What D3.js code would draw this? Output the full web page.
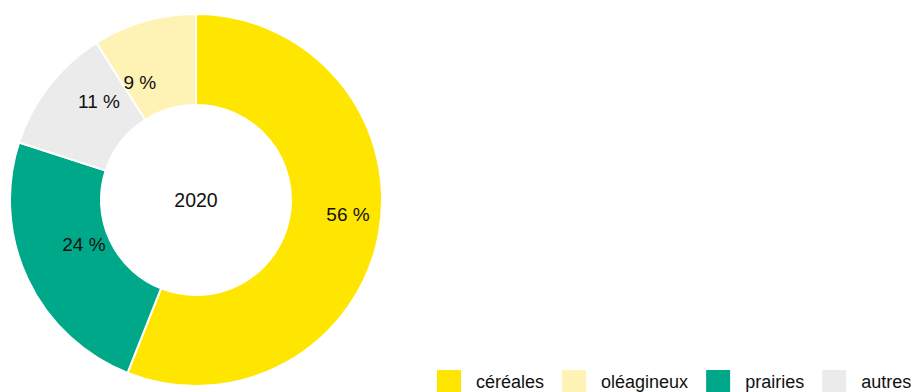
<!DOCTYPE html>
<html>
<head>
<meta charset="utf-8">
<script src="https://cdn.jsdelivr.net/npm/d3@7"></script>
<style>
  html, body { margin: 0; padding: 0; background: #fff; }
  svg { display: block; font-family: "Liberation Sans", Arial, Helvetica, sans-serif; }
</style>
</head>
<body>
<svg id="chart" width="912" height="392"></svg>
<script>
// Répartition des surfaces, 2020
const categories = ["céréales", "oléagineux", "prairies", "autres"];
const shares = [56, 9, 24, 11];
const colors = ["#FFE600", "#FFF2B5", "#00A88A", "#EBEBEB"];
const yearLabel = "2020";

const data = categories.map((c, i) => ({ name: c, value: shares[i], color: colors[i] }));

const svg = d3.select("#chart");
const cx = 196, cy = 200;
const outerR = 186, innerR = 95;

// largest slice first, clockwise from 12 o'clock
const pie = d3.pie().value(d => d.value).sort((a, b) => b.value - a.value);
const arc = d3.arc().innerRadius(innerR).outerRadius(outerR);

const g = svg.append("g").attr("transform", `translate(${cx},${cy})`);
const arcs = pie(data);

g.selectAll("path.slice")
  .data(arcs)
  .join("path")
  .attr("class", "slice")
  .attr("d", arc)
  .attr("fill", d => d.data.color)
  .attr("stroke", "#fff")
  .attr("stroke-width", 2)
  .attr("stroke-linejoin", "round");

// value labels: arc centroid with a small nudge per slice
const nudge = { "céréales": [14, -12], "prairies": [15, -15], "autres": [14, -12], "oléagineux": [-17, 17] };
g.selectAll("text.val")
  .data(arcs)
  .join("text")
  .attr("class", "val")
  .attr("transform", d => {
    const [x, y] = arc.centroid(d);
    const n = nudge[d.data.name] || [0, 0];
    return `translate(${x + n[0]},${y + n[1]})`;
  })
  .attr("text-anchor", "middle")
  .attr("dominant-baseline", "central")
  .attr("font-size", 19)
  .attr("fill", "#111")
  .text(d => `${d.data.value} %`);

g.append("text")
  .attr("text-anchor", "middle")
  .attr("dominant-baseline", "central")
  .attr("font-size", 19.5)
  .attr("fill", "#111")
  .text(yearLabel);

// legend along the bottom right
const legend = svg.append("g").attr("transform", "translate(437,370)");
let lx = 0;
data.forEach(d => {
  const item = legend.append("g").attr("transform", `translate(${lx},0)`);
  item.append("rect").attr("width", 24).attr("height", 24).attr("fill", d.color);
  const t = item.append("text")
    .attr("x", 39)
    .attr("y", 18)
    .attr("font-size", 18)
    .attr("fill", "#111")
    .text(d.name);
  lx += 39 + t.node().getComputedTextLength() + 18;
});
</script>
</body>
</html>
